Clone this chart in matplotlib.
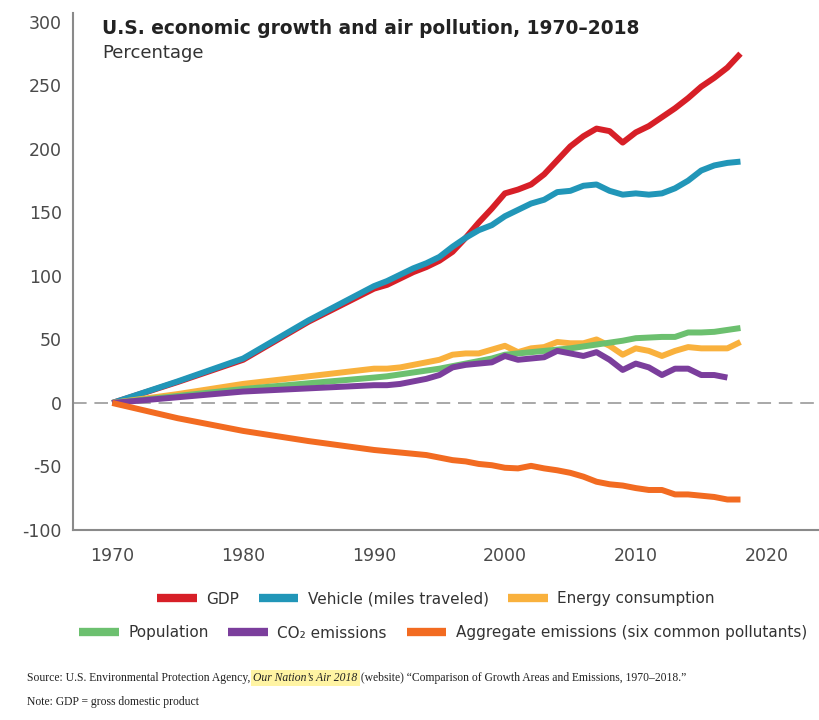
import matplotlib
matplotlib.use("Agg")
import matplotlib.pyplot as plt
import numpy as np
from matplotlib.lines import Line2D

plt.rcParams["axes.unicode_minus"] = False

years = [1970, 1975, 1980, 1985, 1990, 1991, 1992, 1993, 1994, 1995, 1996, 1997,
         1998, 1999, 2000, 2001, 2002, 2003, 2004, 2005, 2006, 2007, 2008, 2009,
         2010, 2011, 2012, 2013, 2014, 2015, 2016, 2017, 2018]

gdp = [0, 16.5, 34, 64, 90, 93, 98, 103, 107, 112, 119, 130, 142, 153, 165, 168, 172,
       180, 191, 202, 210, 216, 214, 205, 213, 218, 225, 232, 240, 249, 256, 264, 275]
vehicle = [0, 17, 35, 65, 92, 96, 101, 106, 110, 115, 123, 130, 136, 140, 147, 152, 157,
           160, 166, 167, 171, 172, 167, 164, 165, 164, 165, 169, 175, 183, 187, 189, 190]
energy = [0, 7, 15, 21, 27, 27, 28, 30, 32, 34, 38, 39, 39, 42, 45, 40, 43,
          44, 48, 47, 47, 50, 45, 38, 43, 41, 37, 41, 44, 43, 43, 43, 48]
population = [0, 5.5, 11, 15.5, 20, 21, 22.5, 24, 25.5, 27, 29, 31, 33, 35, 38, 39, 40,
              41, 42, 43, 44.5, 46, 47.5, 49, 51, 51.5, 52, 52, 55.5, 55.5, 56, 57.5, 59]
co2 = [0, 4.5, 9, 11.5, 14, 14, 15, 17, 19, 22, 28, 30, 31, 32, 37, 34, 35,
       36, 41, 39, 37, 40, 34, 26, 31, 28, 22, 27, 27, 22, 22, 20, np.nan]
aggregate = [0, -12, -22, -30, -37, -38, -39, -40, -41, -43, -45, -46, -48, -49, -51, -51.5, -49.5,
             -51.5, -53, -55, -58, -62, -64, -65, -67, -68.5, -68.5, -72, -72, -73, -74, -76, -76]

series_labels = ["GDP", "Vehicle (miles traveled)", "Energy consumption",
                 "Population", "CO\u2082 emissions", "Aggregate emissions (six common pollutants)"]
series_colors = ["#d71f27", "#2196b8", "#f9b13d", "#6cc06f", "#7b3e9c", "#f26b21"]

x_ticks = [1970, 1980, 1990, 2000, 2010, 2020]
y_ticks = [-100, -50, 0, 50, 100, 150, 200, 250, 300]

fig = plt.figure(figsize=(8.19, 7.2), dpi=100)
ax = fig.add_axes([73 / 819, (720 - 530) / 720, (819 - 73) / 819, (530 - 13) / 720])

# zero reference line
ax.axhline(0, color="#a8a8a8", lw=1.4, dashes=(7, 4), zorder=1)

data = [gdp, vehicle, energy, population, co2, aggregate]
draw_order = [5, 3, 2, 4, 0, 1]
for i in draw_order:
    ax.plot(years, data[i], color=series_colors[i], lw=4.3, solid_joinstyle="round",
            solid_capstyle="butt", zorder=3 + i)

ax.set_xlim(1967, 2024)
ax.set_ylim(-100, 307)
ax.set_xticks(x_ticks)
ax.set_yticks(y_ticks)
ax.tick_params(length=0, labelsize=12.5, colors="#4a4a4a")
ax.tick_params(axis="y", pad=8)
ax.tick_params(axis="x", pad=12)
for s in ["top", "right"]:
    ax.spines[s].set_visible(False)
for s in ["left", "bottom"]:
    ax.spines[s].set_color("#8a8a8a")
    ax.spines[s].set_linewidth(1.5)

fig.text(102 / 819, 1 - 28 / 720, "U.S. economic growth and air pollution, 1970\u20132018",
         fontsize=13.4, fontweight="bold", color="#222222", va="center", ha="left")
fig.text(102 / 819, 1 - 53 / 720, "Percentage", fontsize=13, color="#333333",
         va="center", ha="left")

def handles(idx):
    return [Line2D([0], [0], color=series_colors[i], lw=6, solid_capstyle="butt") for i in idx]

leg_kw = dict(frameon=False, fontsize=11, handlelength=2.6, handletextpad=0.6,
              columnspacing=1.3, labelcolor="#333333", borderaxespad=0, borderpad=0)
leg1 = fig.legend(handles([0, 1, 2]), [series_labels[i] for i in [0, 1, 2]], ncol=3,
                  loc="center", bbox_to_anchor=(436 / 819, 1 - 599 / 720), **leg_kw)
leg2 = fig.legend(handles([3, 4, 5]), [series_labels[i] for i in [3, 4, 5]], ncol=3,
                  loc="center", bbox_to_anchor=(443 / 819, 1 - 633 / 720), **leg_kw)

# source line, built piece by piece
fig.canvas.draw()
renderer = fig.canvas.get_renderer()
src_parts = [("Source: U.S. Environmental Protection Agency, ", "normal", None),
             ("Our Nation\u2019s Air 2018", "italic", "#fff4a3"),
             (" (website) \u201cComparison of Growth Areas and Emissions, 1970\u20132018.\u201d", "normal", None)]
xpix = 27
ypos = 1 - 678 / 720
for txt, style, hl in src_parts:
    kw = {}
    if hl:
        kw["bbox"] = dict(facecolor=hl, edgecolor="none", pad=1.5)
    t = fig.text(xpix / 819, ypos, txt, fontsize=8.35, family="Liberation Serif",
                 style=style, color="#222222", va="center", ha="left", **kw)
    bb = t.get_window_extent(renderer)
    xpix += bb.width
fig.text(27 / 819, 1 - 702 / 720, "Note: GDP = gross domestic product", fontsize=8.35,
         family="Liberation Serif", color="#222222", va="center", ha="left")

fig.savefig("out.png", dpi=100, facecolor="white")
